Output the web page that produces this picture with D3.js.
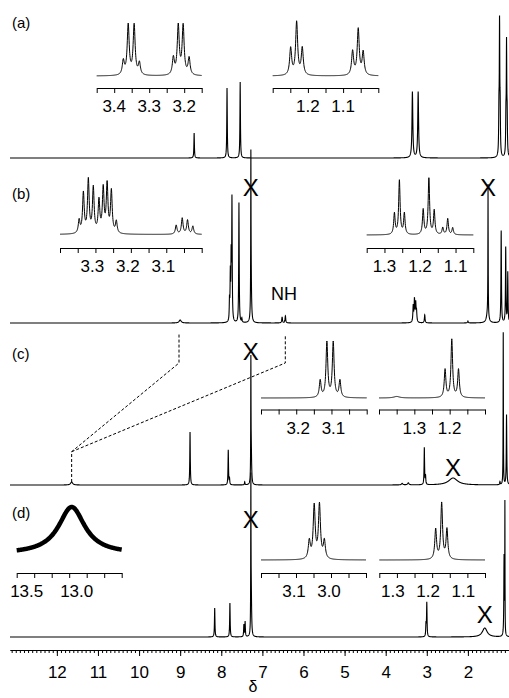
<!DOCTYPE html>
<html>
<head>
<meta charset="utf-8">
<script src="https://cdn.jsdelivr.net/npm/d3@7"></script>
<style>
  body { margin: 0; background: #fff; }
  svg { display: block; font-family: "Liberation Sans", Arial, Helvetica, sans-serif; }
</style>
</head>
<body>
<svg id="chart" width="509" height="698"></svg>
<script>
// ---- data: peaks, [ppm, height, half width (ppm, optional)] ----
var peaksA = [[8.66, 25], [7.86, 70], [7.54, 76],
  [3.35, 66, 0.012], [3.21, 66, 0.012],
  [1.245, 40], [1.23, 128], [1.215, 40], [1.075, 35], [1.06, 108], [1.045, 35]];
var peaksB = [[9.0, 3, 0.03],
  [7.80, 20], [7.78, 45], [7.76, 60], [7.74, 120], [7.57, 120], [7.50, 4],
  [7.28, 135, 0.004], [7.275, 45, 0.012],
  [6.52, 6, 0.01], [6.44, 7, 0.01],
  [3.33, 16, 0.01], [3.30, 22, 0.01], [3.27, 18, 0.01], [3.25, 10, 0.01], [3.05, 8, 0.01],
  [2.0, 2, 0.01],
  [1.51, 130, 0.004], [1.52, 10, 0.03],
  [1.19, 92], [1.08, 75], [1.03, 50]];
var peaksC = [[11.64, 3, 0.03], [8.76, 53], [7.83, 35], [7.80, 6], [7.43, 3],
  [7.28, 115, 0.004], [7.27, 30, 0.01],
  [3.6, 1.5, 0.02], [3.45, 2, 0.02],
  [3.06, 37], [3.03, 8], [2.36, 7, 0.13], [1.22, 3],
  [1.14, 152, 0.004], [1.06, 70]];
var peaksD = [[8.16, 29], [7.79, 34], [7.45, 12], [7.42, 15],
  [7.28, 146, 0.004], [7.27, 37, 0.01],
  [3.00, 34], [3.02, 12], [1.59, 9, 0.07],
  [1.12, 80], [1.10, 128, 0.003]];

// expanded regions (insets): line lists [ppm, height]
var linesA1 = [[3.374, 14], [3.360, 50], [3.343, 50], [3.328, 12], [3.231, 17], [3.217, 49], [3.203, 49], [3.186, 17]];
var linesA2 = [[1.249, 27], [1.232, 53], [1.216, 27], [1.073, 24], [1.057, 46], [1.043, 23]];
var linesB1 = [[3.346, 13], [3.334, 40], [3.320, 53], [3.306, 45], [3.290, 32], [3.278, 44], [3.267, 48], [3.255, 42], [3.241, 12],
  [3.072, 9], [3.055, 16], [3.040, 14], [3.025, 8]];
var linesB2 = [[1.272, 21], [1.258, 54], [1.244, 21], [1.191, 25], [1.175, 56], [1.160, 24], [1.136, 7], [1.122, 16], [1.108, 7]];
var linesC1 = [[3.132, 17], [3.113, 55], [3.095, 55], [3.076, 17]];
var linesC2 = [[1.35, 1.5, 0.01], [1.213, 28], [1.194, 58], [1.175, 28]];
var linesD1 = [[13.05, 47, 0.16]];
var linesD2 = [[3.062, 18], [3.048, 53], [3.033, 54], [3.019, 18]];
var linesD3 = [[1.190, 30], [1.173, 56], [1.158, 30]];

// tick labels
var mainTicks = [12, 11, 10, 9, 8, 7, 6, 5, 4, 3, 2];
var labelsA1 = [3.4, 3.3, 3.2], labelsA2 = [1.2, 1.1];
var labelsB1 = [3.3, 3.2, 3.1], labelsB2 = [1.3, 1.2, 1.1];
var labelsC1 = [3.2, 3.1], labelsC2 = [1.3, 1.2];
var labelsD1 = [13.5, 13.0], labelsD2 = [3.1, 3.0], labelsD3 = [1.3, 1.2, 1.1];

// ---- layout ----
var svg = d3.select("#chart");
var xMain = d3.scaleLinear().domain([13.14, 1.0]).range([10, 509]);

var panels = [
  { name: "(a)", base: 158, labelY: 28, peaks: peaksA, marks: [] },
  { name: "(b)", base: 323, labelY: 199, peaks: peaksB, marks: [{ ppm: 7.28, y: 187 }, { ppm: 1.51, y: 187 }] },
  { name: "(c)", base: 485, labelY: 359, peaks: peaksC, marks: [{ ppm: 7.28, y: 351 }, { ppm: 2.36, y: 467 }] },
  { name: "(d)", base: 637, labelY: 518, peaks: peaksD, marks: [{ ppm: 7.28, y: 519 }, { ppm: 1.59, y: 614 }] }
];

var insets = [
  { lines: linesA1, labels: labelsA1, dom: [3.45, 3.15], range: [96.7, 201.7], base: 76, axis: 88, hw: 0.0034, step: 0.05, dx: 0 },
  { lines: linesA2, labels: labelsA2, dom: [1.30, 1.00], range: [272.7, 378.3], base: 76, axis: 88, hw: 0.0034, step: 0.05, dx: 0 },
  { lines: linesB1, labels: labelsB1, dom: [3.40, 3.00], range: [60, 201.7], base: 234.5, axis: 248, hw: 0.0028, step: 0.05, dx: -3 },
  { lines: linesB2, labels: labelsB2, dom: [1.35, 1.05], range: [366.7, 473.3], base: 235, axis: 248, hw: 0.0024, step: 0.05, dx: 0 },
  { lines: linesC1, labels: labelsC1, dom: [3.30, 3.00], range: [261, 366.7], base: 398, axis: 409.5, hw: 0.003, step: 0.05, dx: 2 },
  { lines: linesC2, labels: labelsC2, dom: [1.40, 1.10], range: [379, 485], base: 398, axis: 409.5, hw: 0.0028, step: 0.05, dx: 0 },
  { lines: linesD1, labels: labelsD1, dom: [13.6, 12.55], range: [16.7, 121.7], base: 554, axis: 573, hw: 0.16, step: 0.175, dx: 0, noisy: true },
  { lines: linesD2, labels: labelsD2, dom: [3.20, 2.90], range: [261, 366], base: 560, axis: 573, hw: 0.0034, step: 0.05, dx: -2 },
  { lines: linesD3, labels: labelsD3, dom: [1.35, 1.05], range: [379.3, 485], base: 560, axis: 573, hw: 0.003, step: 0.05, dx: -4 }
];

// sum of lorentzian lines at a given shift
function lorentz(lines, ppm, w) {
  var s = 0;
  lines.forEach(function(p) {
    var d = (ppm - p[0]) / (p[2] || w);
    s += p[1] / (1 + d * d);
  });
  return s;
}

function samples(dom, step, lines) {
  var lo = Math.min(dom[0], dom[1]), hi = Math.max(dom[0], dom[1]);
  var pts = d3.range(lo, hi, step).concat([hi]);
  lines.forEach(function(p) { if (p[0] > lo && p[0] < hi) pts.push(p[0]); });
  return pts.sort(d3.ascending);
}

// main spectra
panels.forEach(function(p) {
  var y = d3.scaleLinear().domain([0, 100]).range([p.base, p.base - 100]);
  var line = d3.line()
    .x(function(d) { return xMain(d); })
    .y(function(d) { return y(lorentz(p.peaks, d, 0.007)); });

  svg.append("path")
    .datum(samples(xMain.domain(), 0.003, p.peaks))
    .attr("d", line)
    .attr("fill", "none")
    .attr("stroke", "#000")
    .attr("stroke-width", 1.1);

  svg.append("text")
    .attr("x", 12)
    .attr("y", p.labelY)
    .attr("font-size", 15)
    .text(p.name);

  p.marks.forEach(function(m) {
    svg.append("text")
      .attr("x", xMain(m.ppm))
      .attr("y", m.y + 8.5)
      .attr("text-anchor", "middle")
      .attr("font-size", 24)
      .text("X");
  });
});

svg.append("text")
  .attr("x", 284)
  .attr("y", 299.5)
  .attr("text-anchor", "middle")
  .attr("font-size", 18)
  .text("NH");

// dashed guide in (c)
var guideX = xMain(11.64);
svg.append("path")
  .attr("d", "M" + guideX + ",482V451.7L179,363V333M" + guideX + ",451.7L285.3,363V335")
  .attr("fill", "none")
  .attr("stroke", "#000")
  .attr("stroke-width", 1)
  .attr("stroke-dasharray", "3,2");

// insets
insets.forEach(function(ins) {
  var x = d3.scaleLinear().domain(ins.dom).range(ins.range);
  var y = d3.scaleLinear().domain([0, 60]).range([ins.base, ins.base - 60]);
  var line = d3.line()
    .x(function(d) { return x(d); })
    .y(function(d) { return y(lorentz(ins.lines, d, ins.hw)); });

  svg.append("path")
    .datum(samples(ins.dom, ins.noisy ? 0.004 : 0.0005, ins.lines))
    .attr("d", line)
    .attr("fill", "none")
    .attr("stroke", "#000")
    .attr("stroke-width", ins.noisy ? 4.5 : 1);

  var n = Math.round(Math.abs(ins.dom[0] - ins.dom[1]) / ins.step);
  var ticks = d3.range(n + 1).map(function(i) { return ins.dom[0] - i * ins.step; });

  var g = svg.append("g")
    .attr("transform", "translate(0," + ins.axis + ")")
    .call(d3.axisBottom(x).tickValues(ticks).tickSize(5).tickSizeOuter(0).tickFormat(""));
  g.selectAll("path, line").attr("stroke", "#000");

  ins.labels.forEach(function(v) {
    svg.append("text")
      .attr("x", x(v) + ins.dx)
      .attr("y", ins.axis + 24)
      .attr("text-anchor", "middle")
      .attr("font-size", 17)
      .text(v.toFixed(1));
  });
});

// main chemical shift axis
var axisY = 650;
var minor = d3.range(131, 9, -1).map(function(i) { return i / 10; });
var gMinor = svg.append("g")
  .attr("transform", "translate(0," + axisY + ")")
  .call(d3.axisBottom(xMain).tickValues(minor).tickSize(3).tickSizeOuter(0).tickFormat(""));
var gMajor = svg.append("g")
  .attr("transform", "translate(0," + axisY + ")")
  .call(d3.axisBottom(xMain).tickValues(mainTicks).tickSize(6).tickSizeOuter(0).tickPadding(10).tickFormat(d3.format("d")));
svg.selectAll("g path, g line").attr("stroke", "#000");
gMajor.selectAll("text").attr("font-size", 17).attr("fill", "#000")
  .attr("font-family", '"Liberation Sans", Arial, Helvetica, sans-serif');
gMajor.attr("font-size", null).attr("font-family", null);
gMinor.attr("font-family", null);

svg.append("text")
  .attr("x", 253)
  .attr("y", 692)
  .attr("text-anchor", "middle")
  .attr("font-size", 16)
  .text("δ");
</script>
</body>
</html>
